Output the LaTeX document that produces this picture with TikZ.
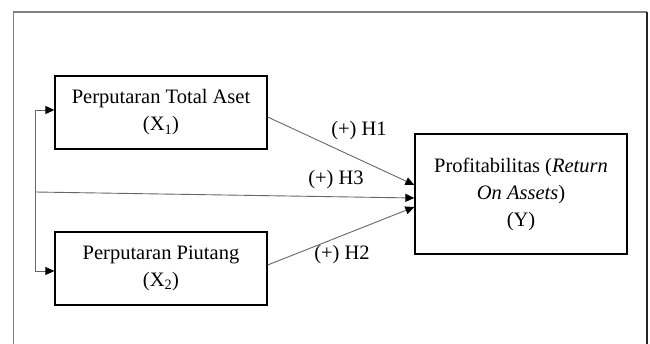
\documentclass[tikz,border=0pt]{standalone}
\usepackage{fontspec}
\setmainfont{Liberation Serif}
\usetikzlibrary{arrows.meta,calc}
\begin{document}
\begin{tikzpicture}[x=1pt,y=-1pt,
  varbox/.style={draw=black,line width=1.3pt,minimum width=212pt,align=center,inner sep=0pt,
     font=\fontsize{20.5}{27}\selectfont},
  conn/.style={draw=black!60,line width=0.9pt,-{Triangle[length=9pt,width=8pt,fill=black,color=black]}},
  plain/.style={draw=black!60,line width=0.9pt},
  lbl/.style={font=\fontsize{20.5}{24}\selectfont,inner sep=0pt},
  frame/.style={draw=black!50,line width=1.2pt},
  frameR/.style={draw=black!85,line width=1.2pt}]
\useasboundingbox (0,0) rectangle (650,344);
\draw[frame] (13.5,344) -- (13.5,12) -- (647,12);
\draw[frameR] (647,12) -- (647,344);
\node[varbox,minimum height=73pt] (X1) at (161,112.5) {Perputaran Total Aset\\(X\textsubscript{1})};
\node[varbox,minimum height=73pt] (X2) at (161,268.5) {Perputaran Piutang\\(X\textsubscript{2})};
\node[varbox,minimum height=120pt] (Y) at (521,194) {Profitabilitas (\textit{Return}\\\textit{On Assets})\\(Y)};
\coordinate (s) at (35,192);
\coordinate (t) at (35,110);
\coordinate (b) at (35,271);
\draw[plain] (t) -- (b);
\draw[conn] (t) -- ([yshift=2.5pt]X1.west);
\draw[conn] (b) -- ([yshift=-2.5pt]X2.west);
\draw[conn] (s) -- ([yshift=-4pt]Y.west);
\draw[conn] ([yshift=-4.5pt]X1.east) -- ([yshift=9pt]Y.west);
\draw[conn] ([yshift=3.5pt]X2.east) -- ([yshift=-13pt]Y.west);
\node[lbl] (h1) at (359,131) {(+) H1};
\node[lbl] (h3) at (336,180) {(+) H3};
\node[lbl] (h2) at (342,255) {(+) H2};
\end{tikzpicture}
\end{document}
